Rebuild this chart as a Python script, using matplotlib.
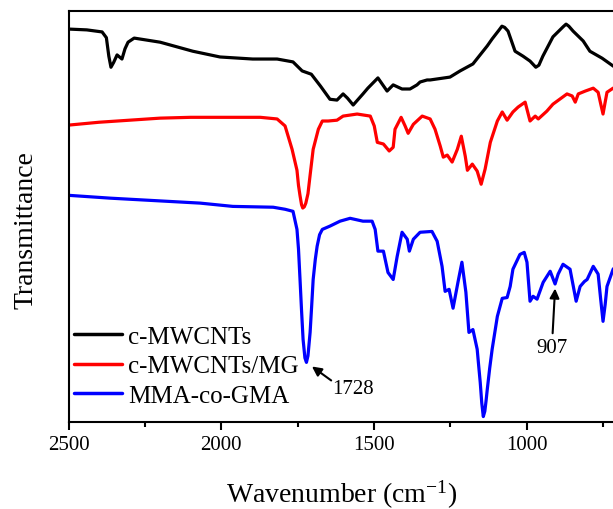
import matplotlib
matplotlib.use("Agg")
import matplotlib.pyplot as plt
from matplotlib.ticker import MultipleLocator

plt.rcParams['font.family'] = ['Liberation Serif', 'DejaVu Serif']
plt.rcParams['mathtext.fontset'] = 'custom'
plt.rcParams['mathtext.rm'] = 'Liberation Serif'
plt.rcParams['mathtext.it'] = 'Liberation Serif:italic'

# c-MWCNTs
w_black = [2500, 2440, 2390, 2376, 2368, 2361, 2352, 2341, 2325, 2315, 2305, 2285, 2200, 2093, 2004,
           1897, 1817, 1765, 1735, 1705, 1675, 1644, 1621, 1601, 1587, 1568, 1536, 1520, 1487,
           1457, 1437, 1408, 1382, 1359, 1349, 1326, 1316, 1251, 1218, 1176, 1129, 1113, 1090,
           1081, 1072, 1061, 1038, 1012, 989, 970, 960, 947, 914, 880, 871, 862, 848, 815, 793,
           753, 717, 700]
t_black = [95.6, 95.4, 94.9, 93.5, 89.0, 86.3, 87.5, 89.3, 88.3, 90.8, 92.4, 93.4, 92.4, 90.2, 88.8,
           88.3, 88.3, 87.6, 85.4, 84.6, 81.7, 78.5, 78.3, 79.8, 78.8, 77.1, 79.8, 81.2, 83.7,
           80.5, 82.0, 81.0, 81.0, 82.0, 82.7, 83.2, 83.2, 83.9, 85.4, 87.1, 91.5, 93.2, 95.4,
           96.3, 96.0, 95.1, 90.2, 89.0, 87.8, 86.3, 86.8, 89.0, 93.7, 96.2, 96.8, 96.3, 95.1,
           92.7, 90.2, 88.5, 86.6, 85.9]

# c-MWCNTs/MG
w_red = [2500, 2400, 2300, 2200, 2100, 1962, 1872, 1817, 1791, 1768, 1752, 1747, 1742, 1737,
         1733, 1728, 1723, 1716, 1709, 1699, 1682, 1669, 1650, 1621, 1601, 1555, 1512, 1499,
         1489, 1469, 1450, 1437, 1431, 1411, 1398, 1388, 1371, 1342, 1316, 1300, 1283, 1273,
         1260, 1244, 1227, 1214, 1201, 1194, 1178, 1162, 1149, 1136, 1119, 1096, 1080, 1064,
         1045, 1028, 1005, 989, 972, 962, 934, 914, 868, 851, 841, 831, 808, 782, 766, 758,
         750, 743, 737, 717, 700]
t_red = [72.2, 72.9, 73.4, 73.9, 74.1, 74.1, 74.1, 73.7, 72.0, 66.3, 61.2, 57.5, 55.0, 52.8,
         52.0, 52.3, 53.2, 55.5, 60.0, 66.3, 71.2, 73.2, 73.2, 73.4, 74.4, 74.9, 74.4, 72.0,
         68.0, 67.6, 65.9, 66.8, 71.2, 74.1, 72.0, 70.2, 72.4, 74.4, 73.7, 71.2, 67.1, 64.4,
         64.9, 63.2, 66.3, 69.5, 64.6, 61.2, 62.7, 61.0, 57.8, 61.5, 68.0, 73.2, 75.4, 73.4,
         75.4, 76.6, 77.8, 73.2, 74.4, 73.7, 75.6, 77.3, 79.8, 79.3, 77.8, 79.8, 80.5, 81.2,
         80.2, 77.5, 74.9, 77.8, 80.2, 81.2, 81.5]

# MMA-co-GMA
w_blue = [2500, 2362, 2069, 1962, 1830, 1791, 1765, 1752, 1747, 1742, 1737, 1732, 1726, 1721,
          1716, 1709, 1704, 1699, 1692, 1686, 1678, 1669, 1644, 1611, 1578, 1536, 1506, 1496,
          1487, 1469, 1454, 1437, 1424, 1408, 1391, 1384, 1371, 1349, 1310, 1293, 1277, 1267,
          1254, 1241, 1225, 1212, 1199, 1189, 1176, 1162, 1157, 1152, 1147, 1142, 1137, 1133,
          1129, 1121, 1113, 1096, 1080, 1064, 1054, 1045, 1022, 1008, 999, 989, 979, 966, 946,
          923, 907, 897, 881, 858, 838, 825, 811, 802, 782, 766, 758, 750, 743, 737, 717, 700]
t_blue = [55.1, 54.4, 53.2, 52.4, 52.2, 51.7, 51.2, 46.8, 42.0, 34.6, 27.0, 20.0, 15.5, 14.4,
          16.0, 21.7, 28.0, 34.6, 39.5, 42.7, 45.5, 46.8, 47.6, 48.8, 49.5, 48.8, 48.8, 46.8,
          41.5, 41.5, 36.3, 34.6, 40.2, 46.1, 44.4, 41.5, 44.4, 46.1, 46.3, 43.9, 37.8, 31.7,
          32.2, 27.6, 33.9, 38.8, 31.5, 21.7, 22.4, 17.6, 13.5, 9.5, 4.5, 1.2, 2.5, 5.0,
          7.8, 13.0, 17.6, 25.6, 30.0, 30.2, 32.9, 37.1, 40.7, 41.2, 38.8, 29.3, 30.5, 29.8, 33.9,
          36.6, 33.5, 35.9, 38.3, 37.1, 29.3, 32.9, 34.1, 34.6, 37.8, 35.9, 30.0, 24.4, 28.5,
          32.9, 37.1, 38.5]

labels = ['c-MWCNTs', 'c-MWCNTs/MG', 'MMA-co-GMA']
colors = ['#000000', '#ff0000', '#0000ff']
x_ticks = [2500, 2000, 1500, 1000]
x_tick_labels = ['2500', '2000', '1500', '1000']

# annotations: (label, peak position, arrow tail, text position)
ann_labels = ['1728', '907']
ann_heads = [(1703, 13.4), (907, 32.4)]
ann_tails = [(1640, 10.0), (915, 21.5)]
ann_text_pos = [(1569, 8.1), (917, 18.0)]

fig = plt.figure(figsize=(6.13, 5.10), dpi=100)
ax = fig.add_axes([68.5 / 613, 1 - 422.5 / 510, (618.3 - 68.5) / 613, (422.5 - 12) / 510])

for w, t, lab, c in zip([w_black, w_red, w_blue], [t_black, t_red, t_blue], labels, colors):
    ax.plot(w, t, color=c, lw=2.3, label=lab, solid_joinstyle='round', solid_capstyle='round')

ax.set_xlim(2500, 700)
ax.set_ylim(0, 100)
ax.set_xticks(x_ticks)
ax.set_xticklabels(x_tick_labels)
ax.xaxis.set_minor_locator(MultipleLocator(250))
ax.set_yticks([])
ax.tick_params(axis='x', which='major', direction='out', length=6, width=1.5, labelsize=15, pad=4)
ax.tick_params(axis='x', which='minor', direction='out', length=3.3, width=1.5)
for s in ax.spines.values():
    s.set_linewidth(1.5)

ax.set_xlabel('Wavenumber (cm$^{-1}$)', fontsize=20)
ax.xaxis.label.set_verticalalignment('baseline')
ax.xaxis.set_label_coords(0.497, -0.196)
ax.set_ylabel('Transmittance', fontsize=20)
ax.yaxis.set_label_coords(-0.054, 0.468)

for lab, head, tail, tp in zip(ann_labels, ann_heads, ann_tails, ann_text_pos):
    ax.annotate('', xy=head, xytext=tail,
                arrowprops=dict(arrowstyle='-|>', color='k', lw=1.5, mutation_scale=14,
                                shrinkA=0, shrinkB=0))
    ax.text(tp[0], tp[1], lab, ha='center', va='center', fontsize=15)

leg = ax.legend(loc='upper left', bbox_to_anchor=(0.0, 0.247), frameon=False, fontsize=18,
                handlelength=1.95, handletextpad=0.24, labelspacing=0.29, borderpad=0.2,
                borderaxespad=0.0)
for line in leg.get_lines():
    line.set_linewidth(2.5)

fig.savefig('out.png', dpi=100)
